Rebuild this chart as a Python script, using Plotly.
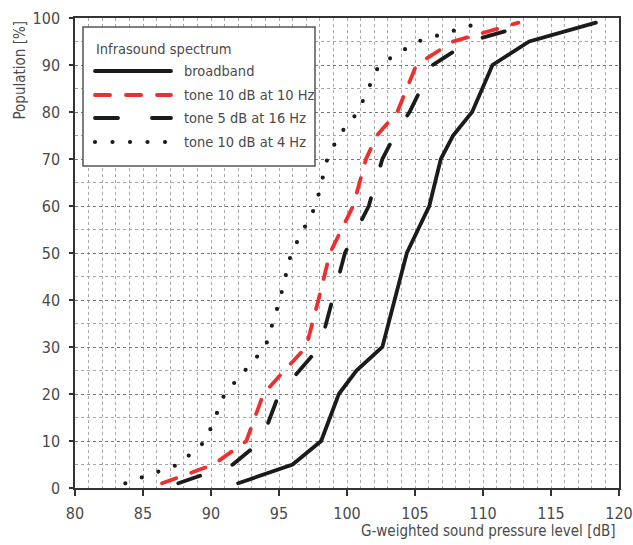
import plotly.graph_objects as go

# ---- data ----
broadband_x = [92.0, 96.0, 98.1, 99.4, 100.7, 102.6, 104.4, 106.05, 106.9, 107.8, 109.2, 110.7, 113.4, 118.3]
broadband_y = [1, 5, 10, 20, 25, 30, 50, 60, 70, 75, 80, 90, 95, 99]

tone10_10_x = [86.4, 90.2, 92.6, 93.85, 95.4, 97.0, 97.9, 98.75, 100.45, 101.4, 102.2, 103.7, 105.1, 107.8, 112.6]
tone10_10_y = [1, 5, 10, 20, 25, 30, 40, 50, 60, 70, 75, 80, 90, 95, 99]

tone5_16_x = [87.6, 91.6, 93.7, 95.0, 98.0, 98.92, 99.85, 101.6, 102.6, 103.5, 104.6, 106.3, 109.0, 113.8]
tone5_16_y = [1, 5, 10, 20, 30, 40, 50, 60, 70, 75, 80, 90, 95, 99]

tone10_4_x = [83.7, 87.6, 89.6, 91.0, 94.0, 95.05, 95.9, 97.7, 98.55, 99.4, 100.8, 102.35, 105.2, 109.8]
tone10_4_y = [1, 5, 10, 20, 30, 40, 50, 60, 70, 75, 80, 90, 95, 99]

series_names = ["broadband", "tone 10 dB at 10 Hz", "tone 5 dB at 16 Hz", "tone 10 dB at 4 Hz"]
legend_title = "Infrasound spectrum"
x_title = "G-weighted sound pressure level [dB]"
y_title = "Population [%]"
x_ticks = [80, 85, 90, 95, 100, 105, 110, 115, 120]
y_ticks = [0, 10, 20, 30, 40, 50, 60, 70, 80, 90, 100]

BLACK = "#1b1b1b"
RED = "#ee2f2f"
TXT = "#4a4a4a"
FONT = "DejaVu Sans Condensed, Liberation Sans Narrow, sans-serif"
FS = 15
LFS = 14.5

styles = [
    dict(color=BLACK, width=3.8, dash="solid"),
    dict(color=RED, width=3.8, dash="15px,16px"),
    dict(color=BLACK, width=3.8, dash="23px,34px"),
    dict(color=BLACK, width=4.2, dash="0px,17.5px"),
]
data = [(broadband_x, broadband_y), (tone10_10_x, tone10_10_y),
        (tone5_16_x, tone5_16_y), (tone10_4_x, tone10_4_y)]

fig = go.Figure()
for (xs, ys), name, st in zip(data, series_names, styles):
    fig.add_trace(go.Scatter(x=xs, y=ys, mode="lines", name=name, line=st,
                             showlegend=False, hoverinfo="x+y+name"))

# plot area pixel geometry (for legend placement in paper coords)
L, R, T, B = 75, 619, 18, 488
def px(x):
    return (x - L) / (R - L)
def py(y):
    return (B - y) / (B - T)

shapes = [dict(type="rect", xref="paper", yref="paper",
               x0=px(83), x1=px(315), y0=py(166), y1=py(27),
               line=dict(color="#555555", width=1.5), fillcolor="white", layer="above")]
annotations = [dict(text=legend_title, xref="paper", yref="paper", x=px(94), y=py(49),
                    xanchor="left", yanchor="middle", showarrow=False,
                    font=dict(family=FONT, size=LFS, color=TXT))]
entry_y = [71, 95, 118, 142]
for name, st, ey in zip(series_names, styles, entry_y):
    shapes.append(dict(type="line", xref="paper", yref="paper",
                       x0=px(95), x1=px(171), y0=py(ey), y1=py(ey),
                       line=dict(color=st["color"], width=st["width"], dash=st["dash"]),
                       layer="above"))
    annotations.append(dict(text=name, xref="paper", yref="paper", x=px(182), y=py(ey),
                            xanchor="left", yanchor="middle", showarrow=False,
                            font=dict(family=FONT, size=LFS, color=TXT)))

annotations.append(dict(text=x_title, xref="paper", yref="paper", x=px(618), y=py(531),
                        xanchor="right", yanchor="middle", showarrow=False,
                        font=dict(family=FONT, size=FS, color=TXT)))
annotations.append(dict(text=y_title, xref="paper", yref="paper", x=px(20), y=py(19),
                        xanchor="center", yanchor="top", textangle=-90, showarrow=False,
                        font=dict(family=FONT, size=FS, color=TXT)))

fig.update_layout(
    width=633, height=545,
    margin=dict(l=L, r=633 - R, t=T, b=545 - B, autoexpand=False),
    paper_bgcolor="white", plot_bgcolor="white",
    font=dict(family=FONT, size=FS, color=TXT),
    showlegend=False,
    shapes=shapes, annotations=annotations,
)
fig.update_xaxes(
    range=[80, 120], tickvals=x_ticks, ticks="outside", ticklen=6, tickwidth=1.5,
    tickcolor="#333333", showline=True, linecolor="#333333", linewidth=1.5, mirror=True,
    showgrid=True, gridcolor="#a8a8a8", griddash="dot", gridwidth=1,
    minor=dict(dtick=1, showgrid=True, gridcolor="#a8a8a8", griddash="dot", gridwidth=1),
    tickfont=dict(family=FONT, size=FS + 1, color=TXT), zeroline=False,
    ticklabelstandoff=4, automargin=False,
)
fig.update_yaxes(
    range=[0, 100], tickvals=y_ticks, ticks="outside", ticklen=4, tickwidth=1.5,
    tickcolor="#333333", showline=True, linecolor="#333333", linewidth=1.5, mirror=True,
    showgrid=True, gridcolor="#777777", griddash="dot", gridwidth=1,
    minor=dict(dtick=5, showgrid=True, gridcolor="#a8a8a8", griddash="dot", gridwidth=1),
    tickfont=dict(family=FONT, size=FS + 1, color=TXT), zeroline=False,
    ticklabelstandoff=6, automargin=False,
)

post = """
document.body.style.margin = '0';
document.body.style.padding = '0';
var gd = document.getElementById('{plot_id}');
function roundCaps(){
  gd.querySelectorAll('.scatterlayer .js-line, .shapelayer path').forEach(function(p){
    p.style.strokeLinecap = 'round';
  });
}
roundCaps();
gd.on('plotly_afterplot', roundCaps);
"""
fig.write_html("out.html", post_script=post, config={"displayModeBar": False})
